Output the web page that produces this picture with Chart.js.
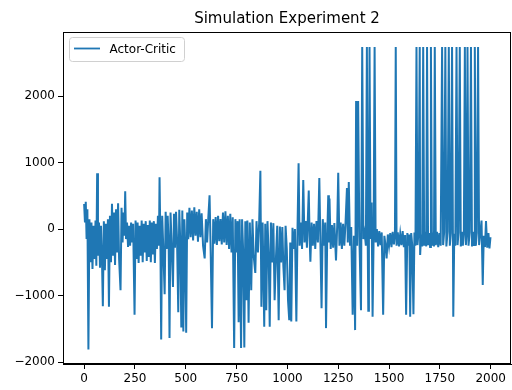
<!DOCTYPE html>
<html>
<head>
<meta charset="utf-8">
<script src="https://cdn.jsdelivr.net/npm/chart.js@4"></script>
<style>
  html, body { margin: 0; padding: 0; background: #fff; }
  canvas { display: block; }
</style>
</head>
<body>
<canvas id="rewardChart" width="512" height="390"></canvas>
<script>
// naslov in legenda
const chartTitle = 'Simulation Experiment 2';
const seriesLabel = 'Actor-Critic';

// oznake na oseh
const xTicks = [0, 250, 500, 750, 1000, 1250, 1500, 1750, 2000];
const yTicks = [-2000, -1000, 0, 1000, 2000];

// epizode 0-500 [epizoda, nagrada]
const runA = [[0,380],[4,100],[8,410],[12,-150],[16,300],[21,-1810],[26,150],[31,-500],[36,100],[41,-600],
  [46,50],[51,-450],[56,130],[60,-550],[64,840],[68,-400],[73,100],[78,-580],[83,50],[88,-500],
  [92,-1160],[97,120],[102,-620],[107,80],[112,-450],[117,150],[122,-1170],[127,200],[132,-500],[137,380],
  [142,-400],[147,250],[152,-540],[157,300],[162,-350],[167,390],[172,-450],[179,-920],[184,320],[189,-200],
  [194,250],[198,-100],[202,570],[206,-150],[211,100],[216,-270],[221,50],[226,-250],[231,100],[236,-200],
  [241,80],[248,-1290],[253,130],[258,-450],[263,100],[268,-510],[273,50],[278,-400],[283,130],[288,-500],
  [293,80],[298,-350],[303,120],[308,-480],[313,60],[318,-420],[323,130],[328,-500],[333,100],[338,-380],
  [343,120],[348,-510],[353,80],[358,-300],[363,200],[368,-250],[371,780],[375,-150],[379,-1660],[384,200],
  [389,-250],[396,-980],[401,260],[406,-300],[411,200],[416,-250],[420,-1640],[425,250],[430,-200],[437,-870],
  [442,230],[447,-280],[452,260],[457,-150],[463,-1250],[468,290],[473,-200],[478,-1480],[483,280],[488,-1540],
  [493,150],[497,-200],[502,-1560]];

// epizode 500-1000
const runB = [[507,250],[512,-150],[518,320],[524,-120],[530,280],[536,-170],[542,330],[548,-100],[554,260],
  [560,-190],[566,300],[572,-120],[578,240],[585,-250],[593,-440],[599,150],[605,-200],[611,180],[617,510],
  [622,-250],[629,-1490],[635,150],[641,-220],[647,180],[653,-240],[659,200],[665,-180],[671,150],[677,-230],
  [683,250],[689,-200],[695,270],[701,-240],[707,200],[713,-300],[719,230],[725,-350],[731,180],[738,-1790],
  [744,150],[750,-350],[755,120],[760,-1400],[765,150],[772,-1790],[777,150],[782,-300],[788,-1780],[793,120],
  [798,-1070],[803,130],[809,-1410],[815,100],[822,-920],[828,150],[834,-400],[842,-660],[848,120],[855,-350],
  [861,100],[867,880],[872,-1170],[878,100],[886,-1470],[891,80],[896,-1220],[902,120],[908,-400],[913,-1470],
  [919,100],[925,-500],[931,90],[937,-1070],[944,-400],[950,50],[957,-1370],[963,40],[969,-500],[975,30],
  [980,-550],[986,-920],[991,50]];

// epizode 1000-1500
const runC = [[997,-300],[1003,-1070],[1009,-1370],[1014,-200],[1019,-1390],[1025,20],[1031,-300],[1037,0],
  [1044,-1390],[1050,50],[1055,990],[1060,-250],[1066,100],[1072,-300],[1078,740],[1084,-200],[1090,120],
  [1096,-280],[1105,580],[1109,-100],[1113,-490],[1119,100],[1125,-250],[1131,80],[1137,-300],[1143,120],
  [1150,-200],[1157,770],[1162,-150],[1168,-1190],[1174,150],[1180,-250],[1186,100],[1190,-1490],[1196,-100],
  [1201,510],[1204,-200],[1207,460],[1213,-300],[1219,60],[1225,-280],[1231,90],[1239,-470],[1245,50],
  [1250,850],[1256,-250],[1262,100],[1268,-300],[1274,80],[1280,-250],[1286,100],[1293,620],[1297,-200],
  [1302,710],[1308,-250],[1314,30],[1321,-1290],[1327,-100],[1333,-1520],[1338,1930],[1343,-250],[1348,1930],
  [1354,-100],[1362,-1220],[1368,2740],[1374,-150],[1380,-50],[1386,-250],[1391,2740],[1395,-150],[1398,-1230],
  [1401,-100],[1404,2740],[1409,-150],[1414,400],[1419,-1320],[1424,-150],[1429,2740],[1434,-200],[1440,0],
  [1446,-260],[1452,-30],[1458,-240],[1464,-50],[1471,-1290],[1477,-100],[1483,-250],[1488,-440],[1494,-80]];

// epizode 1500-2000
const runD = [[1500,-250],[1506,-60],[1512,-270],[1518,-40],[1524,-230],[1529,-80],[1533,2740],[1537,-250],
  [1543,-50],[1549,-260],[1555,-70],[1561,-240],[1567,-30],[1573,-270],[1579,-90],[1584,-1290],[1590,-60],
  [1596,-250],[1600,-80],[1604,-1320],[1609,-60],[1614,-240],[1620,-1280],[1625,-50],[1630,-250],[1635,2740],
  [1640,-240],[1645,-50],[1651,2740],[1653,-390],[1658,-80],[1663,-260],[1668,2740],[1673,-250],[1678,-40],
  [1683,-260],[1687,2740],[1692,-240],[1697,-60],[1702,-270],[1706,2740],[1711,-250],[1716,-50],[1721,-260],
  [1725,2740],[1730,-240],[1736,-40],[1742,-270],[1748,-60],[1754,-250],[1761,2740],[1766,-240],[1771,-50],
  [1777,2740],[1782,-260],[1788,-40],[1794,2740],[1799,-250],[1804,-60],[1810,2740],[1816,-1320],[1821,-70],
  [1826,-250],[1832,2740],[1837,-240],[1842,-50],[1848,2740],[1853,-260],[1858,-40],[1863,-250],[1868,-80],
  [1873,2740],[1878,-240],[1882,-60],[1886,2740],[1891,-250],[1897,-50],[1903,2740],[1908,-260],[1913,-40],
  [1918,-240],[1922,2740],[1927,-250],[1932,-50],[1938,2740],[1943,-240],[1949,-60],[1955,130],[1961,-840],
  [1966,-100],[1972,-270],[1977,120],[1983,-280],[1989,-60],[1994,-290],[1999,-120]];

const rewards = [...runA, ...runB, ...runC, ...runD].map(([x, y]) => ({ x: x, y: y }));

const lineColor = '#1f77b4';

// okvir okoli grafa, naslov in legenda (kot v matplotlibu)
const decorations = {
  id: 'decorations',
  afterDraw(chart) {
    const { ctx, chartArea: a } = chart;
    ctx.save();
    ctx.strokeStyle = '#000';
    ctx.lineWidth = 1;
    ctx.strokeRect(a.left + 0.5, a.top + 0.5, a.right - a.left - 1, a.bottom - a.top - 1);

    ctx.fillStyle = '#000';
    ctx.font = '15px "DejaVu Sans"';
    ctx.textAlign = 'center';
    ctx.textBaseline = 'alphabetic';
    ctx.fillText(chartTitle, (a.left + a.right) / 2, 23);

    // legenda
    ctx.beginPath();
    ctx.roundRect(69.5, 37.5, 115, 24, 3);
    ctx.fillStyle = 'rgba(255,255,255,0.8)';
    ctx.fill();
    ctx.strokeStyle = '#d0d0d0';
    ctx.stroke();
    ctx.beginPath();
    ctx.moveTo(74, 48.5);
    ctx.lineTo(100, 48.5);
    ctx.strokeStyle = lineColor;
    ctx.lineWidth = 1.8;
    ctx.stroke();
    ctx.fillStyle = '#000';
    ctx.font = '12px "DejaVu Sans"';
    ctx.textAlign = 'left';
    ctx.fillText(seriesLabel, 109.5, 52.5);
    ctx.restore();
  }
};

const ctx = document.getElementById('rewardChart').getContext('2d');
new Chart(ctx, {
  type: 'line',
  data: {
    datasets: [{
      label: seriesLabel,
      data: rewards,
      borderColor: lineColor,
      borderWidth: 2,
      pointRadius: 0,
      tension: 0,
      fill: false
    }]
  },
  options: {
    responsive: false,
    animation: false,
    layout: { padding: { left: 0, right: 1, top: 32, bottom: 0 } },
    plugins: {
      legend: { display: false },
      title: { display: false },
      tooltip: { enabled: false }
    },
    scales: {
      x: {
        type: 'linear',
        min: -104,
        max: 2100,
        afterFit: s => { s.height = 26; },
        afterBuildTicks: s => { s.ticks = xTicks.map(v => ({ value: v })); },
        grid: { drawOnChartArea: false, drawTicks: true, tickLength: 5, color: '#000' },
        border: { display: true, color: '#000' },
        ticks: {
          maxRotation: 0,
          autoSkip: false,
          padding: 3,
          color: '#000',
          font: { family: 'DejaVu Sans', size: 12 },
          callback: v => String(v)
        }
      },
      y: {
        min: -2030,
        max: 2967,
        afterFit: s => { s.width = 63; },
        afterBuildTicks: s => { s.ticks = yTicks.map(v => ({ value: v })); },
        grid: { drawOnChartArea: false, drawTicks: true, tickLength: 5, color: '#000' },
        border: { display: true, color: '#000' },
        ticks: {
          padding: 3,
          color: '#000',
          font: { family: 'DejaVu Sans', size: 12 },
          callback: v => String(v).replace('-', '\u2212')
        }
      }
    }
  },
  plugins: [decorations]
});
</script>
</body>
</html>
